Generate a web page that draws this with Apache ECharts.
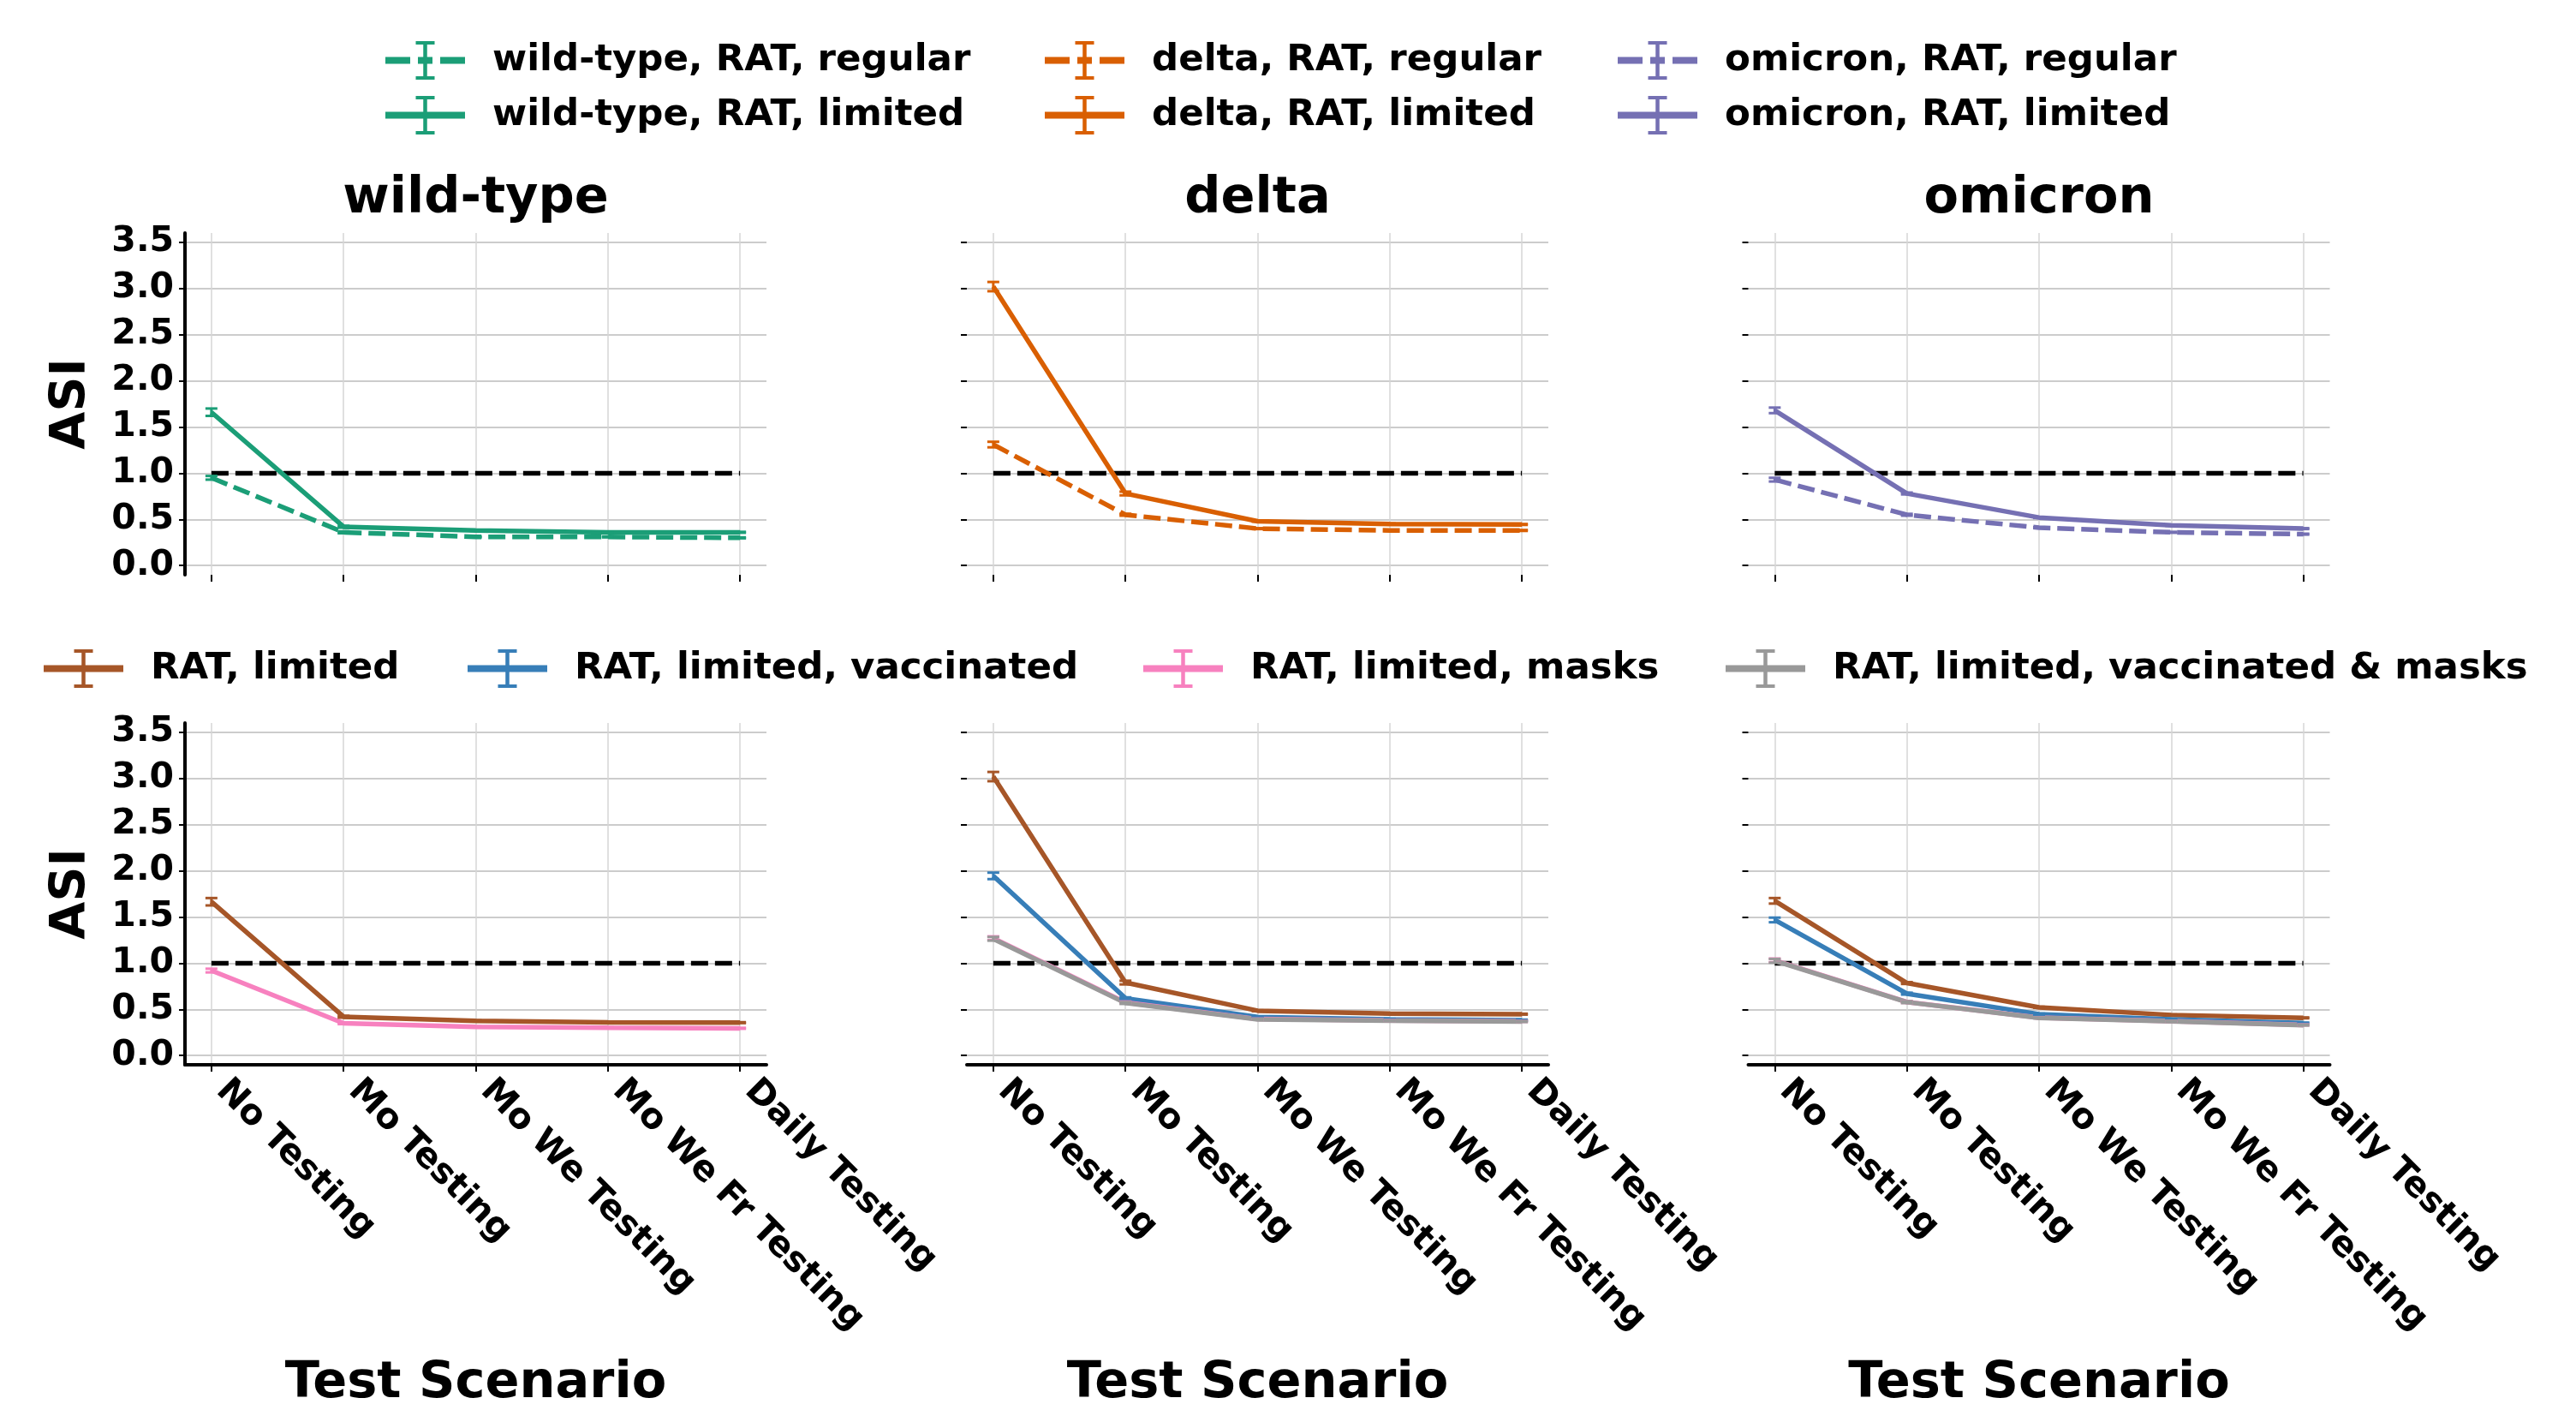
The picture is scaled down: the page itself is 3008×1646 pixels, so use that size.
<!DOCTYPE html>
<html>
<head>
<meta charset="utf-8">
<script src="https://cdn.jsdelivr.net/npm/echarts@6/dist/echarts.min.js"></script>
<style>
html,body{margin:0;padding:0;background:#ffffff;}
#chart{width:3008px;height:1646px;}
</style>
</head>
<body>
<div id="chart"></div>
<script>
// ---------------- data ----------------
const categories = ['No Testing', 'Mo Testing', 'Mo We Testing', 'Mo We Fr Testing', 'Daily Testing'];
const xTickValues = [0, 1, 2, 3, 4];
const yTicks = [0, 0.5, 1, 1.5, 2, 2.5, 3, 3.5];
const panelTitles = ['wild-type', 'delta', 'omicron'];
const thresholdValue = 1.0;

// top row: variant x testing regime
const wtRegular = [0.95, 0.36, 0.31, 0.31, 0.30];
const wtRegularErr = [0.02, 0.01, 0.005, 0.005, 0.005];
const wtLimited = [1.66, 0.42, 0.38, 0.36, 0.36];
const wtLimitedErr = [0.04, 0.01, 0.005, 0.005, 0.005];
const deltaRegular = [1.31, 0.55, 0.40, 0.38, 0.38];
const deltaRegularErr = [0.03, 0.01, 0.005, 0.005, 0.005];
const deltaLimited = [3.02, 0.78, 0.48, 0.45, 0.445];
const deltaLimitedErr = [0.05, 0.02, 0.005, 0.005, 0.005];
const omicronRegular = [0.93, 0.55, 0.41, 0.36, 0.34];
const omicronRegularErr = [0.02, 0.01, 0.005, 0.005, 0.005];
const omicronLimited = [1.68, 0.78, 0.52, 0.435, 0.40];
const omicronLimitedErr = [0.03, 0.01, 0.005, 0.005, 0.005];

// bottom row: interventions (RAT, limited)
const limitedWT = [1.665, 0.42, 0.376, 0.358, 0.356];
const limitedWTErr = [0.04, 0.01, 0.005, 0.005, 0.005];
const masksWT = [0.92, 0.35, 0.31, 0.30, 0.295];
const masksWTErr = [0.02, 0.01, 0.005, 0.005, 0.005];

const limitedDelta = [3.02, 0.79, 0.485, 0.455, 0.448];
const limitedDeltaErr = [0.05, 0.02, 0.005, 0.005, 0.005];
const vaccDelta = [1.945, 0.62, 0.417, 0.392, 0.383];
const vaccDeltaErr = [0.035, 0.01, 0.005, 0.005, 0.005];
const masksDelta = [1.27, 0.575, 0.395, 0.38, 0.37];
const masksDeltaErr = [0.02, 0.01, 0.005, 0.005, 0.005];
const vaccMasksDelta = [1.264, 0.569, 0.392, 0.377, 0.368];
const vaccMasksDeltaErr = [0.02, 0.01, 0.005, 0.005, 0.005];

const limitedOmicron = [1.675, 0.785, 0.522, 0.439, 0.408];
const limitedOmicronErr = [0.03, 0.01, 0.005, 0.005, 0.005];
const vaccOmicron = [1.468, 0.67, 0.448, 0.392, 0.352];
const vaccOmicronErr = [0.025, 0.01, 0.005, 0.005, 0.005];
const masksOmicron = [1.03, 0.58, 0.41, 0.372, 0.332];
const masksOmicronErr = [0.02, 0.01, 0.005, 0.005, 0.005];
const vaccMasksOmicron = [1.026, 0.578, 0.408, 0.371, 0.33];
const vaccMasksOmicronErr = [0.02, 0.01, 0.005, 0.005, 0.005];

// ---------------- styling ----------------
const GREEN = '#1b9e77', ORANGE = '#d95f02', PURPLE = '#7570b3';
const BROWN = '#a65628', BLUE = '#377eb8', PINK = '#f781bf', GRAY = '#999999';
const FONT = 'DejaVu Sans';

const SOLID_ICON = 'path://M0 18.5 L93 18.5 L93 26.5 L0 26.5 Z M44.25 0 L48.75 0 L48.75 45 L44.25 45 Z M35.5 0 L57.5 0 L57.5 4 L35.5 4 Z M35.5 41 L57.5 41 L57.5 45 L35.5 45 Z';
const DASH_ICON = 'path://M0 18.5 L29 18.5 L29 26.5 L0 26.5 Z M38 18.5 L55 18.5 L55 26.5 L38 26.5 Z M64 18.5 L93 18.5 L93 26.5 L64 26.5 Z M44.25 0 L48.75 0 L48.75 45 L44.25 45 Z M35.5 0 L57.5 0 L57.5 4 L35.5 4 Z M35.5 41 L57.5 41 L57.5 45 L35.5 45 Z';

const colLeft = [216, 1129, 2041.5];
const colWidth = 679;
const rowTop = [272, 844];
const rowHeight = 399;

const panels = [
  {row: 0, col: 0, lines: [
    {name: 'wild-type, RAT, regular', data: wtRegular, err: wtRegularErr, color: GREEN, dashed: true},
    {name: 'wild-type, RAT, limited', data: wtLimited, err: wtLimitedErr, color: GREEN, dashed: false}]},
  {row: 0, col: 1, lines: [
    {name: 'delta, RAT, regular', data: deltaRegular, err: deltaRegularErr, color: ORANGE, dashed: true},
    {name: 'delta, RAT, limited', data: deltaLimited, err: deltaLimitedErr, color: ORANGE, dashed: false}]},
  {row: 0, col: 2, lines: [
    {name: 'omicron, RAT, regular', data: omicronRegular, err: omicronRegularErr, color: PURPLE, dashed: true},
    {name: 'omicron, RAT, limited', data: omicronLimited, err: omicronLimitedErr, color: PURPLE, dashed: false}]},
  {row: 1, col: 0, lines: [
    {name: 'RAT, limited', data: limitedWT, err: limitedWTErr, color: BROWN, dashed: false},
    {name: 'RAT, limited, masks', data: masksWT, err: masksWTErr, color: PINK, dashed: false}]},
  {row: 1, col: 1, lines: [
    {name: 'RAT, limited', data: limitedDelta, err: limitedDeltaErr, color: BROWN, dashed: false},
    {name: 'RAT, limited, vaccinated', data: vaccDelta, err: vaccDeltaErr, color: BLUE, dashed: false},
    {name: 'RAT, limited, masks', data: masksDelta, err: masksDeltaErr, color: PINK, dashed: false},
    {name: 'RAT, limited, vaccinated & masks', data: vaccMasksDelta, err: vaccMasksDeltaErr, color: GRAY, dashed: false}]},
  {row: 1, col: 2, lines: [
    {name: 'RAT, limited', data: limitedOmicron, err: limitedOmicronErr, color: BROWN, dashed: false},
    {name: 'RAT, limited, vaccinated', data: vaccOmicron, err: vaccOmicronErr, color: BLUE, dashed: false},
    {name: 'RAT, limited, masks', data: masksOmicron, err: masksOmicronErr, color: PINK, dashed: false},
    {name: 'RAT, limited, vaccinated & masks', data: vaccMasksOmicron, err: vaccMasksOmicronErr, color: GRAY, dashed: false}]}
];

const grids = [], xAxes = [], yAxes = [], series = [], titles = [];

panels.forEach((p, i) => {
  const bottom = p.row === 1;
  const first = p.col === 0;
  grids.push({left: colLeft[p.col], top: rowTop[p.row], width: colWidth, height: rowHeight,
              containLabel: false, outerBoundsMode: 'none'});
  xAxes.push({
    type: 'value', gridIndex: i, min: -0.2, max: 4.2,
    name: bottom ? 'Test Scenario' : '',
    nameLocation: 'middle', nameGap: 343, nameMoveOverlap: false,
    nameTextStyle: {fontSize: 59, fontWeight: 'bold', color: '#000', fontFamily: FONT},
    axisLine: {show: bottom, onZero: false, lineStyle: {color: '#000', width: 4}},
    axisTick: {show: true, customValues: xTickValues, length: 8, lineStyle: {color: '#000', width: 2}},
    axisLabel: {show: bottom, customValues: xTickValues, rotate: -45, margin: 12,
                padding: [0, 0, 0, 17],
                formatter: v => categories[Math.round(v)],
                fontSize: 41, fontWeight: 'bold', color: '#000', fontFamily: FONT},
    splitLine: {show: true, lineStyle: {color: '#d6d6d6', width: 1.5}}
  });
  yAxes.push({
    type: 'value', gridIndex: i, min: -0.1, max: 3.6,
    name: first ? 'ASI' : '',
    nameLocation: 'middle', nameGap: 103, nameMoveOverlap: false,
    nameTextStyle: {fontSize: 57, fontWeight: 'bold', color: '#000', fontFamily: FONT},
    axisLine: {show: first, onZero: false, lineStyle: {color: '#000', width: 4}},
    axisTick: {show: true, customValues: yTicks, length: 7, lineStyle: {color: '#000', width: 2}},
    axisLabel: {show: first, customValues: yTicks, margin: 13,
                formatter: v => v.toFixed(1),
                fontSize: 41, fontWeight: 'bold', color: '#000', fontFamily: FONT},
    splitLine: {show: true, lineStyle: {color: '#cccccc', width: 2}}
  });
  // reference line at ASI = 1
  series.push({
    type: 'line', xAxisIndex: i, yAxisIndex: i, name: '__threshold' + i,
    data: [[xTickValues[0], thresholdValue], [xTickValues[xTickValues.length - 1], thresholdValue]],
    symbol: 'none', silent: true, z: 2,
    lineStyle: {color: '#000', width: 5.5, type: [20, 8]}
  });
  p.lines.forEach(l => {
    series.push({
      type: 'line', xAxisIndex: i, yAxisIndex: i, name: l.name,
      data: l.data.map((v, k) => [xTickValues[k], v]),
      symbol: 'none', silent: true, z: 3,
      itemStyle: {color: l.color},
      lineStyle: {color: l.color, width: 5.5, type: l.dashed ? [20, 8] : 'solid'}
    });
    series.push({
      type: 'custom', xAxisIndex: i, yAxisIndex: i, name: l.name + ' err',
      data: l.data.map((v, k) => [xTickValues[k], v, l.err[k]]),
      silent: true, z: 4,
      renderItem: (params, api) => {
        const x = api.value(0), y = api.value(1), e = api.value(2);
        const t = api.coord([x, y + e]);
        const b = api.coord([x, y - e]);
        const hw = 7;
        const st = {stroke: l.color, lineWidth: 3};
        return {type: 'group', children: [
          {type: 'line', shape: {x1: t[0], y1: t[1], x2: b[0], y2: b[1]}, style: st},
          {type: 'line', shape: {x1: t[0] - hw, y1: t[1], x2: t[0] + hw, y2: t[1]}, style: st},
          {type: 'line', shape: {x1: b[0] - hw, y1: b[1], x2: b[0] + hw, y2: b[1]}, style: st}
        ]};
      }
    });
  });
});

panelTitles.forEach((t, c) => {
  titles.push({text: t, left: colLeft[c] + colWidth / 2, top: 203, textAlign: 'center', padding: 0,
               textStyle: {fontSize: 59, fontWeight: 'bold', color: '#000', fontFamily: FONT}});
});

const legendBase = {
  orient: 'vertical', itemWidth: 93, itemHeight: 45, itemGap: 19, padding: 0,
  selectedMode: false, symbolKeepAspect: false,
  itemStyle: {borderWidth: 0},
  textStyle: {fontSize: 43.5, fontWeight: 'bold', color: '#000', fontFamily: FONT, padding: [0, 0, 0, 27]}
};
const legends = [
  Object.assign({}, legendBase, {left: 450, top: 48, data: [
    {name: 'wild-type, RAT, regular', icon: DASH_ICON}, {name: 'wild-type, RAT, limited', icon: SOLID_ICON}]}),
  Object.assign({}, legendBase, {left: 1220, top: 48, data: [
    {name: 'delta, RAT, regular', icon: DASH_ICON}, {name: 'delta, RAT, limited', icon: SOLID_ICON}]}),
  Object.assign({}, legendBase, {left: 1889, top: 48, data: [
    {name: 'omicron, RAT, regular', icon: DASH_ICON}, {name: 'omicron, RAT, limited', icon: SOLID_ICON}]}),
  Object.assign({}, legendBase, {left: 51, top: 758, data: [{name: 'RAT, limited', icon: SOLID_ICON}]}),
  Object.assign({}, legendBase, {left: 546, top: 758, data: [{name: 'RAT, limited, vaccinated', icon: SOLID_ICON}]}),
  Object.assign({}, legendBase, {left: 1335, top: 758, data: [{name: 'RAT, limited, masks', icon: SOLID_ICON}]}),
  Object.assign({}, legendBase, {left: 2015, top: 758, data: [{name: 'RAT, limited, vaccinated & masks', icon: SOLID_ICON}]})
];

const chart = echarts.init(document.getElementById('chart'), null, {renderer: 'canvas'});
chart.setOption({
  animation: false,
  backgroundColor: '#ffffff',
  title: titles,
  legend: legends,
  grid: grids,
  xAxis: xAxes,
  yAxis: yAxes,
  series: series
});
</script>
</body>
</html>
